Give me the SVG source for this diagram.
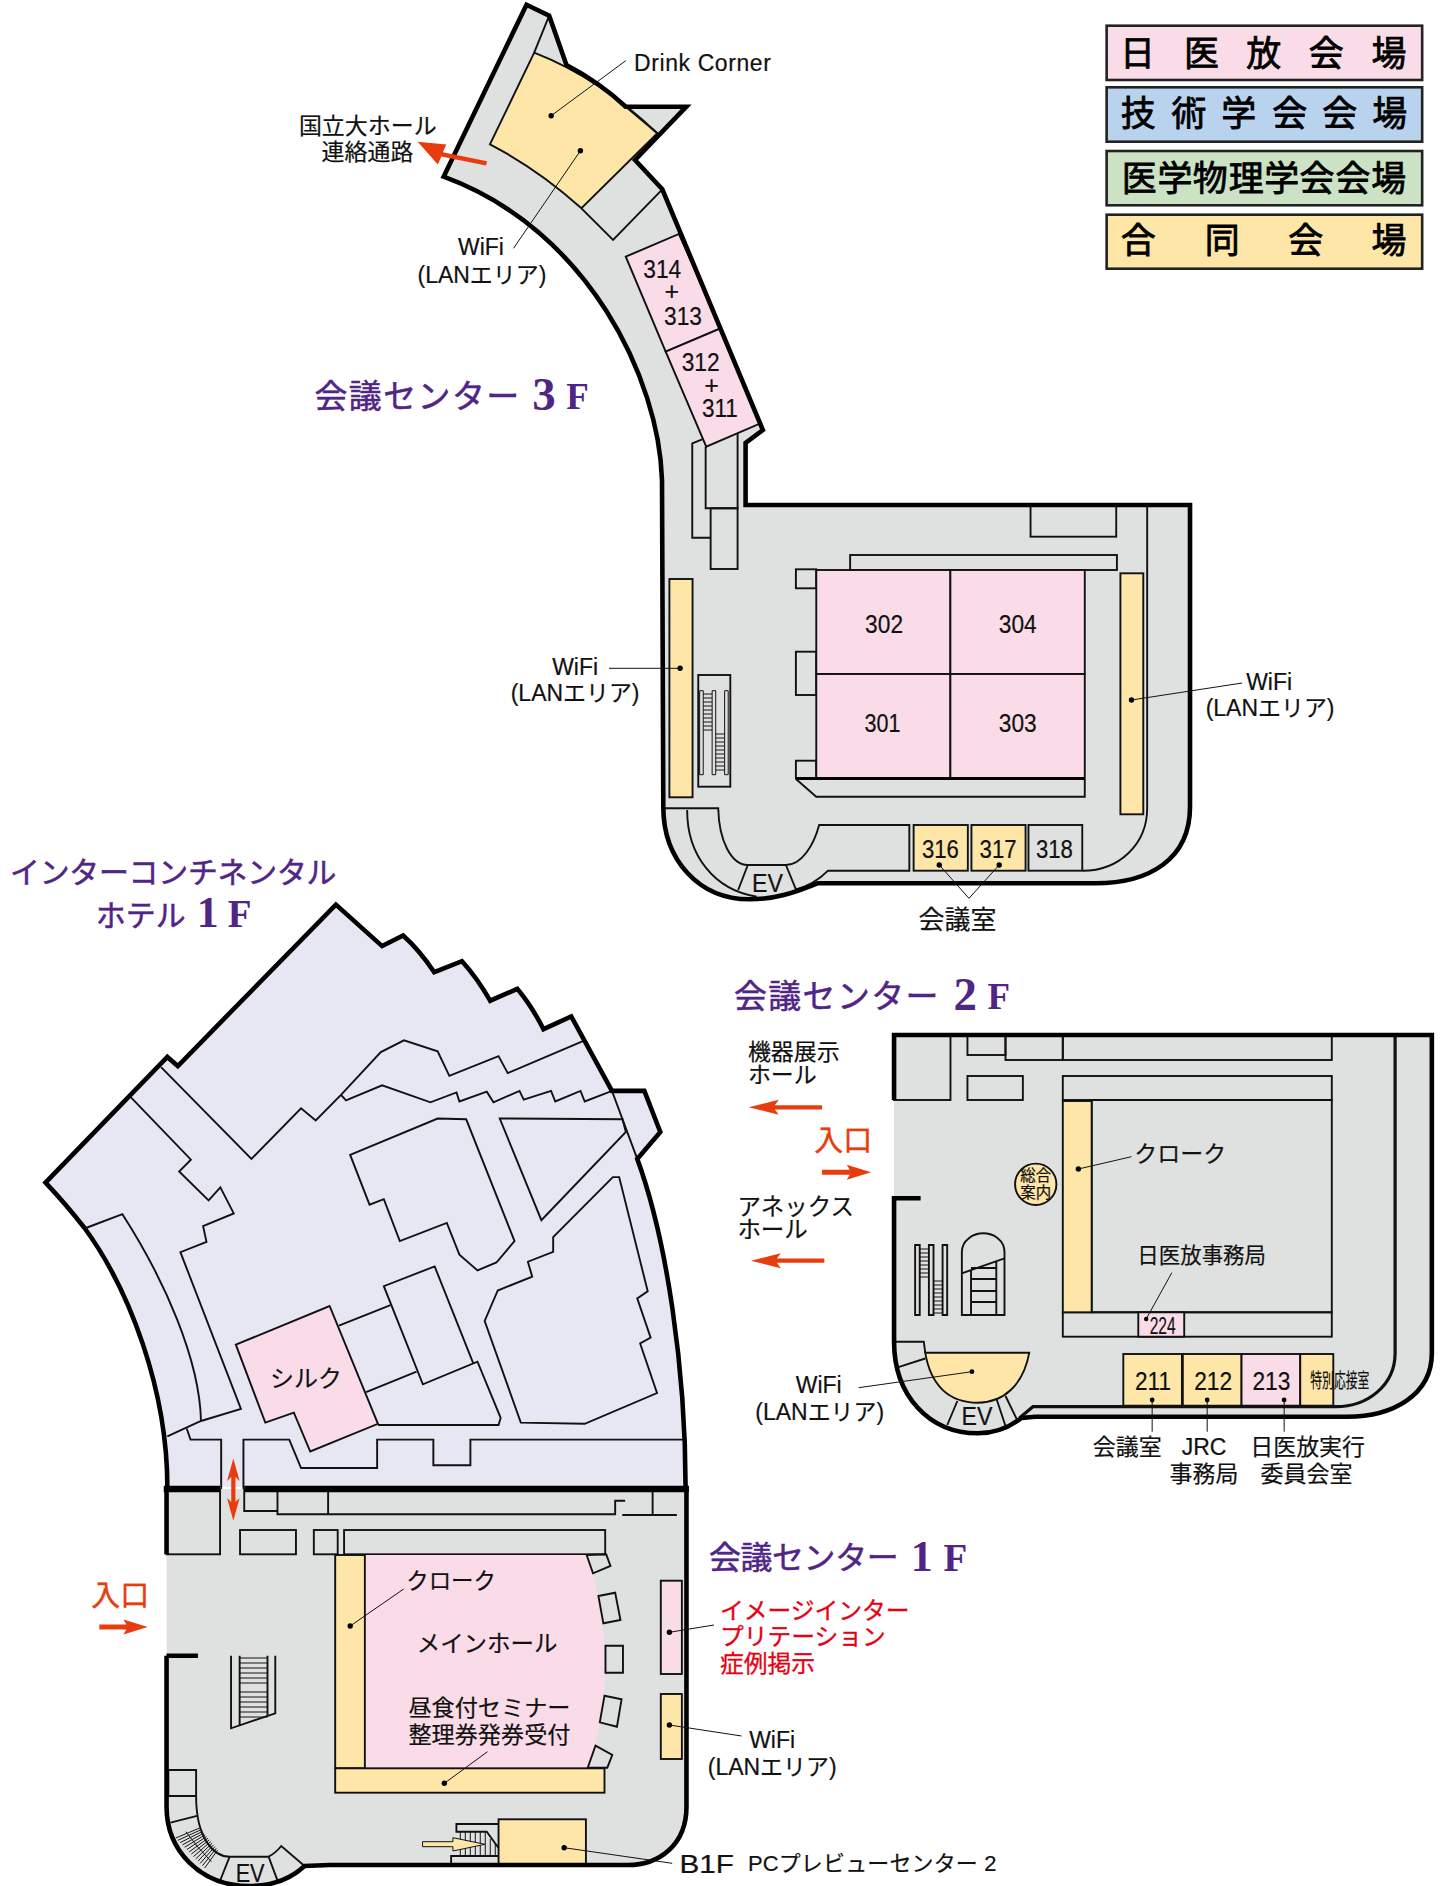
<svg xmlns="http://www.w3.org/2000/svg" width="1440" height="1886" viewBox="0 0 1440 1886">
<style>
text{font-family:"Liberation Sans","Noto Sans CJK JP",sans-serif;fill:#111;font-size:23px;stroke:#111;stroke-width:.2}
.jp{font-family:"Noto Sans CJK JP",sans-serif}
.m{text-anchor:middle}
.n{font-size:25px;text-anchor:middle}
.ttl{font-family:"Noto Sans CJK JP",sans-serif;fill:#502585;stroke:#502585;stroke-width:.5;font-size:33px}
.ttn{font-family:"Liberation Serif",serif;fill:#502585;stroke:none;font-weight:700}
.leg{font-family:"Noto Sans CJK JP",sans-serif;font-size:35px;stroke:#000;stroke-width:.8;text-anchor:middle;fill:#000}
.red{fill:#e60012;stroke:#e60012;stroke-width:.3;font-size:23.8px;font-family:"Noto Sans CJK JP",sans-serif}
.ent{fill:#e83c0e;stroke:#e83c0e;stroke-width:.4;font-size:29px;font-family:"Noto Sans CJK JP",sans-serif;text-anchor:middle}
.g{fill:#dfe1e0}.p{fill:#f9dce8}.y{fill:#fde6a7}.b{fill:#b9d2ee}.v{fill:#cbe2c4}.h{fill:#e7e6f3}
.wall{fill:none;stroke:#000;stroke-width:4.6;stroke-linejoin:miter}
.t{stroke:#111;stroke-width:1.9;stroke-linejoin:miter}
.o{fill:none;stroke:#111;stroke-width:1.9;stroke-linejoin:miter}
.f{fill:none;stroke:#111;stroke-width:1}
.lead{fill:none;stroke:#111;stroke-width:1}
.dot{fill:#000}
.arrow{fill:#e83c0e}
.lg{stroke:#222;stroke-width:2.6}
</style>
<g transform="scale(.9985 1)">
<g id="legend">
<rect class="p lg" x="1108.3" y="25.7" width="316" height="54.3"/>
<rect class="b lg" x="1108.3" y="87.3" width="316" height="54.4"/>
<rect class="v lg" x="1108.3" y="151" width="316" height="54.3"/>
<rect class="y lg" x="1108.3" y="214.7" width="316" height="54"/>
<text class="leg" x="1139.3 1203.3 1265.7 1328.3 1391" y="66">日医放会場</text>
<text class="leg" x="1140 1190.7 1240.7 1291.7 1341.7 1391.7" y="126">技術学会会場</text>
<text class="leg" x="1141 1176.7 1212 1248 1283.6 1319 1355 1390.7" y="191">医学物理学会会場</text>
<text class="leg" x="1140 1224 1307.7 1391" y="253">合同会場</text>
</g>

<g id="floor-3f">
<path class="g" d="M527.3,4.7 L550,15.7 L567.3,65 Q600,82 626.7,106.7 L687.3,106.7 L636,160 L663.3,189.3 L764,430 L746.7,443 L746.7,505 L1191.8,505 L1191.8,806.7 C1191.8,860 1150,883.3 1097.1,883.3 L818.6,883.3 C795,893 775,899.3 750.7,899.3 C700,899.3 664.3,860 664.3,806.7 L663,480 C660,380 590,230 444.3,176.7 Z"/>
<path class="o" d="M550,15.7 L535,52.7"/>
<path class="y t" d="M535,52.7 Q600,78 658.3,133.3 L582.3,208.3 Q540,170 490.7,144.3 Z"/>
<path class="o" d="M582.3,208.3 L614,240 L663.3,189.3"/>
<g id="room-314-313"><path class="p t" d="M626.7,256.7 L680,234 L721.7,328.3 L666.7,351.7 Z"/>
<text class="n" x="663.3" y="278.3" textLength="38" lengthAdjust="spacingAndGlyphs">314</text><text class="n" x="672.7" y="300">+</text><text class="n" x="684" y="325" textLength="38" lengthAdjust="spacingAndGlyphs">313</text></g>
<g id="room-312-311"><path class="p t" d="M666.7,351.7 L721.7,328.3 L761.7,423.3 L707.3,446.7 Z"/>
<text class="n" x="701.7" y="370.7" textLength="38" lengthAdjust="spacingAndGlyphs">312</text><text class="n" x="712.7" y="394">+</text><text class="n" x="721" y="417.3" textLength="36" lengthAdjust="spacingAndGlyphs">311</text></g>
<path class="o" d="M703.3,439.3 L693.3,443.3 L693.3,537.7 L711.7,537.7"/>
<path class="o" d="M706.7,446.7 L706.7,508.3 L738.7,508.3 L738.7,433.3"/>
<rect class="o" x="711.7" y="508.3" width="27" height="60.7"/>
<rect class="o" x="1032.1" y="505" width="85.8" height="31.7"/>
<path class="o" d="M1148.9,505 L1148.9,808 C1148.9,845 1120,870.7 1084.6,870.7"/>
<rect class="o" x="851.4" y="555" width="267.2" height="15"/>
<rect class="o" x="797.1" y="569.3" width="20.4" height="19"/>
<rect class="o" x="797.1" y="651.7" width="20.4" height="43.3"/>
<rect class="o" x="797.1" y="760.7" width="20.4" height="17.6"/>
<path class="o" d="M797.1,779 L817.5,796.7 L1086.4,796.7 L1086.4,779"/>
<g id="room-302"><rect class="p t" x="817.5" y="570" width="134.3" height="104"/><text class="n" x="885.4" y="633.3" textLength="38" lengthAdjust="spacingAndGlyphs">302</text></g>
<g id="room-304"><rect class="p t" x="951.8" y="570" width="134.6" height="104"/><text class="n" x="1019.3" y="633.3" textLength="38" lengthAdjust="spacingAndGlyphs">304</text></g>
<g id="room-301"><rect class="p t" x="817.5" y="674" width="134.3" height="104"/><text class="n" x="883.9" y="731.7" textLength="36" lengthAdjust="spacingAndGlyphs">301</text></g>
<g id="room-303"><rect class="p t" x="951.8" y="674" width="134.6" height="104"/><text class="n" x="1019.3" y="731.7" textLength="38" lengthAdjust="spacingAndGlyphs">303</text></g>
<path d="M797.1,778.5 L1086.4,778.5" stroke="#000" stroke-width="3"/>
<rect class="y t" x="670.4" y="579" width="23.2" height="218.3"/>
<rect class="y t" x="1122.1" y="573.3" width="22.9" height="241"/>
<g id="escalator-3f">
<rect class="o" x="699.3" y="675" width="32.1" height="111.7"/>
<path class="f" stroke-width="1.5" d="M700.7,774.7V690.7H704.3V774.7ZM713.2,774.7V690.7H716.8V774.7ZM725.7,774.7V690.7H729.3V774.7Z"/>
<path class="f" d="M704.3,694H713.2M704.3,698H713.2M704.3,702H713.2M704.3,706H713.2M704.3,710H713.2M704.3,714H713.2M704.3,718H713.2M704.3,722H713.2M704.3,726H713.2M704.3,730H713.2M716.8,734H725.7M716.8,738H725.7M716.8,742H725.7M716.8,746H725.7M716.8,750H725.7M716.8,754H725.7M716.8,758H725.7M716.8,762H725.7M716.8,766H725.7M716.8,770H725.7"/>
</g>
<path class="o" d="M664.3,808.3 L719.3,808.3 C720,840 732,865 748.9,865 L787.1,865 C803,865 815,845 820.4,825 L910.7,825 L910.7,870.7 L829.3,870.7 Q815,885 797.1,889.3"/>
<path class="o" d="M688.2,810 C688,855 715,890 757.9,896.7"/>
<path class="o" d="M748.9,865 L739.3,890 M787.1,865 L797.1,889.3"/>
<text class="n" x="768.6" y="891.7" textLength="31" lengthAdjust="spacingAndGlyphs">EV</text>
<g id="room-316"><rect class="y t" x="915" y="825" width="54.3" height="45.7"/><text class="n" x="941.8" y="858.3" textLength="37" lengthAdjust="spacingAndGlyphs">316</text></g>
<g id="room-317"><rect class="y t" x="972.9" y="825" width="54.2" height="45.7"/><text class="n" x="999.6" y="858.3" textLength="37" lengthAdjust="spacingAndGlyphs">317</text></g>
<g id="room-318"><rect class="o" x="1030" y="825" width="53.9" height="45.7"/><text class="n" x="1056" y="858.3" textLength="37" lengthAdjust="spacingAndGlyphs">318</text></g>
<path class="wall" d="M527.3,4.7 L550,15.7 L567.3,65 Q600,82 626.7,106.7 L687.3,106.7 L636,160 L663.3,189.3 L764,430 L746.7,443 L746.7,505 L1191.8,505 L1191.8,806.7 C1191.8,860 1150,883.3 1097.1,883.3 L818.6,883.3 C795,893 775,899.3 750.7,899.3 C700,899.3 664.3,860 664.3,806.7 L663,480 C660,380 590,230 444.3,176.7 Z"/>
<path d="M626.7,106.7 L658.3,133.3" class="o"/>
</g>

<g id="labels-3f">
<text class="ttl" x="315" y="408" textLength="205">会議センター</text>
<text class="ttn" x="533" y="410" style="font-size:47px">3</text>
<text class="ttn" x="567" y="409" style="font-size:37px">F</text>
<text x="635" y="70.7" textLength="137">Drink Corner</text>
<text class="m" x="481.7" y="255">WiFi</text>
<text class="m" x="482.7" y="283">(LANエリア)</text>
<text class="m" x="368.3" y="134">国立大ホール</text>
<text class="m" x="368" y="160">連絡通路</text>
<text class="m" x="576" y="675.5">WiFi</text>
<text class="m" x="576" y="701">(LANエリア)</text>
<text class="m" x="1271" y="690">WiFi</text>
<text class="m" x="1272" y="716">(LANエリア)</text>
<text class="jp m" x="959" y="929" style="font-size:26px">会議室</text>
</g>

<g id="hotel-1f">
<path class="h" d="M336.4,904.6 L382.7,946.1 L403.7,935.5 Q420,950 434.9,972.2 L462.7,961.2 Q478,978 490.9,1000.7 L518.2,988.9 Q532,1005 544.3,1029.2 L572.1,1016.5 L612.9,1090.9 L645.3,1090.9 L661.3,1132 L638.2,1158.9 C668,1240 686.6,1370 686.6,1487 L167.6,1487 C167.6,1390 130,1290 84.7,1228 Q65,1203 45.6,1182.6 L167.6,1056.9 L178.1,1066 Z"/>
<g class="o">
<path d="M585.6,1040.3 L508.5,1073.1 L499.3,1056.1 L450,1075.8 L438.3,1051.3 L404.6,1040.3 L381.4,1052.1 L341.5,1094.8 L316.2,1120.5 L301.5,1108.3 L251.8,1158.9 L161.3,1067.1"/>
<path d="M341.5,1094.8 L346.5,1100.4 L382.7,1085.3 L431.1,1102.3 L457.2,1092.4 L460.1,1101.5 L487.5,1091.7 L494.2,1102.3 L520.3,1090.9 L524.5,1099.6 L551.9,1090.9 L556.1,1101.5 L581.4,1090.9 L585.6,1101.5 L612.9,1090.9 L638.2,1158.9"/>
<path d="M500.5,1118.5 L623.4,1119.3 L626.8,1132 L542.2,1220.2 Z"/>
<path d="M350.7,1154.9 L438.3,1118.5 L466.9,1119.3 L515.3,1241.1 L497.2,1262.5 L478.2,1270.4 L460.1,1254.6 L447.5,1222.9 L400.4,1241.1 L384.4,1199.2 L370.1,1204.7 Z"/>
<path d="M130.2,1096.4 L191.2,1159.7 L179.4,1171.5 L208.9,1200.4 L220.7,1187.3 L234.1,1213.4 L203.4,1226.1 L206.8,1241.9 L180.7,1252.2 L241.3,1408.8 L201.3,1421 L167.6,1436.4"/>
<path d="M86,1228 L122.6,1214.2 C165,1280 200,1360 201.3,1421"/>
<path d="M187,1428.5 L190.8,1439.6 L221.5,1439.6 L221.5,1489 M243.8,1489 L243.8,1439.6 L289.7,1439.6 L301.5,1468 L377.7,1468 L377.7,1439.6 L434,1439.6 L434,1465.3 L471.1,1465.3 L471.1,1439.6 L686.6,1439.6"/>
<path d="M339.4,1325.7 L391.1,1305.2 M366.7,1392.2 L417.2,1371.6"/>
<path d="M474,1363.3 L435.3,1266.4 L384.4,1286.2 L423.5,1384.3 L478.2,1361.7 L501.4,1417.9 L499.3,1425 L378.5,1425"/>
<path d="M613.8,1177.1 L620.1,1177.1 L648.7,1291.3 L638.2,1298.4 L651.6,1337.6 L641.1,1343.5 L658,1393 L585.6,1423.8 L521.6,1422.6 L485.4,1321 L498.5,1290.5 L533,1276.7 L528.7,1261.7 L554,1251.8 L554,1237.2 Z"/>
</g>
<g id="room-silk"><path class="p t" d="M236.2,1344.7 L330.1,1306 L378.5,1423.8 L310.7,1451.5 L294.3,1412.7 L265.7,1422.6 Z"/>
<text class="jp m" x="306.5" y="1387" style="font-size:24px">シルク</text></g>
<path class="wall" d="M167.6,1487 C167.6,1390 130,1290 84.7,1228 Q65,1203 45.6,1182.6 L167.6,1056.9 L178.1,1066 L336.4,904.6 L382.7,946.1 L403.7,935.5 Q420,950 434.9,972.2 L462.7,961.2 Q478,978 490.9,1000.7 L518.2,988.9 Q532,1005 544.3,1029.2 L572.1,1016.5 L612.9,1090.9 L645.3,1090.9 L661.3,1132 L638.2,1158.9 C668,1240 686.6,1370 686.6,1487"/>
</g>

<g id="center-1f">
<path class="g" d="M166.8,1489 L687.5,1489 L687.5,1806.7 C687.5,1845 660,1865 628.6,1865 L330,1865 L305,1866 C290,1880 270,1886 250,1886 C200,1886 166.8,1850 166.8,1806.7 Z"/>
<rect class="o" x="166.8" y="1490" width="53.6" height="64.3" stroke-width="2.5"/>
<path class="o" d="M244.6,1489 L244.6,1511 L277.9,1511 M277.9,1489 L277.9,1514.3 L616.1,1514.3 L616.1,1500.7 L626.1,1500.7 M328.6,1489 L328.6,1514.3 M623.2,1515 L677.9,1515 M653.6,1489 L653.6,1515"/>
<rect class="o" x="240.4" y="1530" width="56" height="24.3"/>
<rect class="o" x="314.3" y="1530" width="23.9" height="24.3"/>
<rect class="o" x="344.6" y="1530" width="261.5" height="24.3"/>
<g id="hall-main"><path class="p" d="M365.4,1555 L587.5,1555 C600,1590 606,1630 606,1670 C606,1705 600,1740 587.5,1768.3 L365.4,1768.3 Z"/></g>
<rect class="y t" x="335.7" y="1555" width="29.7" height="213.3"/>
<rect class="y t" x="335.7" y="1768.3" width="269.7" height="24.4"/>
<path class="o" d="M587.5,1555 L607.1,1554.3 L611.4,1566 L593.9,1573.3 Z M599.3,1596 L616.1,1592.7 L621.4,1620 L604.3,1623.3 Z M606.4,1645.7 H623.9 V1672.7 H606.4 Z M605.4,1695.7 L622.5,1699.3 L617.9,1726.7 L600.7,1722.3 Z M596.4,1745.7 L613.2,1755 L608.2,1767.7 L588.6,1767.7 Z"/>
<rect class="p t" x="661.8" y="1580.7" width="21.1" height="93.3"/>
<rect class="y t" x="661.8" y="1694" width="21.1" height="65"/>
<g id="stair-1f"><path class="o" d="M231.4,1655.7 L231.4,1728.3 L275.7,1713.3 L275.7,1655.7 M240,1655.7 L240,1725 M267.9,1655.7 L267.9,1716"/>
<path class="f" d="M240,1658H267.9M240,1663H267.9M240,1668H267.9M240,1673H267.9M240,1678H267.9M240,1683H267.9M240,1692H267.9M240,1697H267.9M240,1702H267.9M240,1707H267.9M240,1712H267.9M240,1717H267.9"/></g>
<path class="o" d="M168.6,1796 L168.6,1770 L196.4,1770 L196.4,1796 L168.6,1796 M196.4,1796 C196.4,1840 215,1856.7 230,1856.7 L269,1856.7 Q276,1853 281.7,1846 L305,1866 M170.7,1822.7 L198.3,1815.7 M230,1856.7 L220.7,1880 M269,1856.7 L278.3,1881.7"/>
<path class="f" d="M186,1831.7 Q198,1848 211.7,1861.7 M200,1828L176,1838M201.4,1829.7L178.2,1840.3M202.8,1831.4L180.5,1842.6M204.2,1833.1L182.7,1844.9M205.5,1834.8L184.9,1847.2M206.9,1836.5L187.2,1849.5M208.3,1838.2L189.4,1851.9M209.7,1839.8L191.6,1854.1M211.1,1841.5L193.8,1856.5M212.5,1843.2L196.1,1858.8M213.8,1844.9L198.3,1861.1M215.2,1846.6L200.5,1863.4M216.6,1848.3L202.8,1865.7M218,1850L205,1868"/>
<text class="n" x="250.5" y="1881.7" textLength="29" lengthAdjust="spacingAndGlyphs">EV</text>
<g id="room-b1f"><rect class="y t" x="499.3" y="1819.3" width="87.5" height="45"/></g>
<g id="stair-b1f"><path class="o" d="M499.3,1824 L457.1,1824 L457.1,1831.7 L487.5,1831.7 L499.3,1848 M451.8,1865 L451.8,1856 L499.3,1856"/>
<path class="f" d="M461,1831.7V1856M466,1831.7V1856M471,1831.7V1856M476,1831.7V1856M481,1831.7V1856M486,1831.7V1856M491,1839V1856M496,1844V1856"/>
<path d="M423.2,1841.7 L453.6,1841.7 L453.6,1837.7 L485.7,1844.3 L453.6,1851 L453.6,1846.7 L423.2,1846.7 Z" fill="#fde6a7" stroke="#111" stroke-width="1"/></g>
<path class="wall" d="M166.8,1554.3 L166.8,1489 M166.8,1655.7 L198.2,1655.7 M166.8,1655.7 L166.8,1806.7 C166.8,1850 200,1886 250,1886 C270,1886 290,1880 305,1866 L330,1865 L628.6,1865 C660,1865 687.5,1845 687.5,1806.7 L687.5,1489"/>
<path d="M164,1489 H220.4 M244.6,1489 H690" stroke="#000" stroke-width="6.5" fill="none"/>
</g>

<g id="labels-1f">
<text class="ttl" x="10" y="883" textLength="327" style="font-size:30px">インターコンチネンタル</text>
<text class="ttl" x="96" y="926" style="font-size:30px">ホテル</text>
<text class="ttn" x="197" y="927.3" style="font-size:44px">1</text>
<text class="ttn" x="228" y="927.3" style="font-size:39px">F</text>
<text class="ttl" x="710" y="1569" textLength="190" style="font-size:32px">会議センター</text>
<text class="ttn" x="912" y="1570.7" style="font-size:44px">1</text>
<text class="ttn" x="945" y="1570.7" style="font-size:39px">F</text>
<text class="jp m" x="451.8" y="1589" style="font-size:22.5px">クローク</text>
<text class="jp m" x="487.8" y="1652.5" style="font-size:23.5px">メインホール</text>
<text class="jp" x="409" y="1716" style="font-size:23.2px">昼食付セミナー</text>
<text class="jp" x="409" y="1743" style="font-size:23.2px">整理券発券受付</text>
<text class="red" x="721" y="1619">イメージインター</text>
<text class="red" x="721" y="1645.5">プリテーション</text>
<text class="red" x="721" y="1672">症例掲示</text>
<text class="m" x="773.3" y="1748.3">WiFi</text>
<text class="m" x="773.3" y="1775">(LANエリア)</text>
<text x="680.5" y="1873" textLength="54.5" lengthAdjust="spacingAndGlyphs" style="font-size:26px">B1F</text>
<text x="749" y="1871" textLength="249" style="font-size:22px">PCプレビューセンター 2</text>
<text class="ent" x="120.5" y="1606">入口</text>
</g>

<g id="floor-2f">
<path class="g" d="M895.4,1035 L1434,1035 L1434,1353 C1434,1395 1395,1416.7 1349,1416.7 L1036.8,1416.7 L1023,1418 C1010,1428 995,1433.3 979.4,1433.3 C930,1433.3 895.4,1395 895.4,1341.7 Z"/>
<path d="M1397.2,1035 L1397.2,1353 C1397.2,1385 1370,1406.7 1337.6,1406.7 L1034.5,1406.7 L1021,1418" fill="none" stroke="#111" stroke-width="3.2"/>
<g class="o">
<rect x="895.4" y="1035" width="56.5" height="65"/>
<rect x="968.9" y="1035" width="38.1" height="20"/>
<rect x="1007" y="1035" width="57.4" height="25"/>
<rect x="1064.4" y="1035" width="269.4" height="25"/>
<rect x="968.9" y="1076" width="55.5" height="24"/>
<rect x="1064.4" y="1076" width="269.4" height="24"/>
<rect x="1093.3" y="1100" width="240.5" height="212.3"/>
<rect x="1064.4" y="1312.3" width="269.4" height="24.4"/>
</g>
<rect class="y t" x="1064.4" y="1101" width="28.9" height="211.3"/>
<g id="room-224"><rect class="p t" x="1140" y="1312.3" width="46" height="24.4"/><text class="m" x="1164.4" y="1334" textLength="26" lengthAdjust="spacingAndGlyphs" style="font-size:24px">224</text></g>
<g id="info-desk"><circle class="y t" cx="1037.3" cy="1184.3" r="20.7"/>
<text class="jp m" x="1037.3" y="1181.5" style="font-size:15.5px">総合</text><text class="jp m" x="1037.3" y="1198.5" style="font-size:15.5px">案内</text></g>
<g id="stairs-2f">
<path class="o" stroke-width="1.5" d="M916.5,1315V1245H921.1V1315ZM930.3,1315V1245H934.9V1315ZM944,1315V1245H948.6V1315Z"/>
<path class="f" d="M921.1,1249H930.3M921.1,1253H930.3M921.1,1257H930.3M921.1,1261H930.3M921.1,1265H930.3M921.1,1269H930.3M921.1,1273H930.3M921.1,1277H930.3M934.9,1281H944M934.9,1285H944M934.9,1289H944M934.9,1293H944M934.9,1297H944M934.9,1301H944M934.9,1305H944M934.9,1309H944M934.9,1313H944"/>
<path class="o" d="M963.3,1315 L963.3,1252 C963.3,1240 975,1233.3 984.6,1233.3 C995,1233.3 1006,1240 1006,1252 L1006,1315 Z M963.3,1273.3 L1006,1258.3 M972.5,1270 L972.5,1315 M997.8,1262 L997.8,1315 M972.5,1279H997.8 M972.5,1291H997.8 M972.5,1302H997.8 M972.5,1268H997.8"/>
</g>
<path class="o" d="M895.4,1341.7 L925.2,1341.7 L926.6,1352.7 M899,1367.3 L926.6,1358.5"/>
<path class="y t" d="M926.6,1352.7 L1030.8,1352.7 C1025,1385 1005,1402.7 979.4,1402.7 C950,1402.7 932,1385 926.6,1352.7 Z"/>
<path class="o" d="M958.8,1401 L948.7,1425 M997.8,1398.3 L1007,1426 M1007,1396 L1018.4,1419.3"/>
<text class="n" x="978.5" y="1425" textLength="31" lengthAdjust="spacingAndGlyphs">EV</text>
<g id="room-211"><rect class="y t" x="1125" y="1354" width="58.7" height="51.7"/><text class="n" x="1154.8" y="1390" textLength="36" lengthAdjust="spacingAndGlyphs">211</text></g>
<g id="room-212"><rect class="y t" x="1184.6" y="1354" width="58.8" height="51.7"/><text class="n" x="1215" y="1390" textLength="38" lengthAdjust="spacingAndGlyphs">212</text></g>
<g id="room-213"><rect class="p t" x="1243.4" y="1354" width="58.8" height="51.7"/><text class="n" x="1273.3" y="1390" textLength="38" lengthAdjust="spacingAndGlyphs">213</text></g>
<g id="room-special"><rect class="y t" x="1302.2" y="1354" width="33.1" height="51.7"/><text class="jp" x="1312.3" y="1388" textLength="59" lengthAdjust="spacingAndGlyphs" style="font-size:20px">特別応接室</text></g>
<path class="wall" d="M895.4,1100 L895.4,1035 L1434,1035 L1434,1353 C1434,1395 1395,1416.7 1349,1416.7 L1036.8,1416.7 L1023,1418 C1010,1428 995,1433.3 979.4,1433.3 C930,1433.3 895.4,1395 895.4,1341.7 L895.4,1198.3 L922,1198.3"/>
</g>

<g id="labels-2f">
<text class="ttl" x="735" y="1008" textLength="205">会議センター</text>
<text class="ttn" x="955" y="1010" style="font-size:47px">2</text>
<text class="ttn" x="989" y="1009" style="font-size:37px">F</text>
<text class="jp" x="749" y="1060">機器展示</text>
<text class="jp" x="749" y="1083">ホール</text>
<text class="jp" x="738.5" y="1215" style="font-size:23.5px">アネックス</text>
<text class="jp" x="738.5" y="1238" style="font-size:23.5px">ホール</text>
<text class="ent" x="844.5" y="1151">入口</text>
<text class="jp" x="1136" y="1162">クローク</text>
<text class="jp" x="1139" y="1263" style="font-size:21.5px">日医放事務局</text>
<text class="m" x="820" y="1393">WiFi</text>
<text class="m" x="821" y="1420.5">(LANエリア)</text>
<text class="jp m" x="1129" y="1455">会議室</text>
<text class="m" x="1205.8" y="1455">JRC</text>
<text class="jp m" x="1205.8" y="1482">事務局</text>
<text class="jp m" x="1309.6" y="1455">日医放実行</text>
<text class="jp m" x="1308.4" y="1482">委員会室</text>
</g>

<g id="connectors">
<g class="lead">
<path d="M552,115.7 L626.7,60.7"/>
<path d="M581.3,150.7 L514.3,248.3"/>
<path d="M681.1,668.3 L610,668.3"/>
<path d="M1133.2,700 L1244,683"/>
<path d="M940.7,865 L970.4,898.3 L1000.7,865"/>
<path d="M1080,1169 L1133.2,1156.7"/>
<path d="M1147.9,1319 L1173.6,1272.7"/>
<path d="M973.4,1371.7 L860,1387.7"/>
<path d="M1153.9,1400 V1431.7 M1209,1400 V1431.7 M1286.1,1400 V1431.7"/>
<path d="M350.7,1626 L404.3,1589"/>
<path d="M445,1783.3 L488.2,1751.7"/>
<path d="M670.4,1632.3 L715,1625"/>
<path d="M670.4,1725 L742.7,1736"/>
<path d="M565,1847.7 L673.2,1863.3"/>
</g>
<g class="dot">
<circle cx="552" cy="115.7" r="2.7"/><circle cx="581.3" cy="150.7" r="2.7"/><circle cx="681.1" cy="668.3" r="2.7"/><circle cx="1133.2" cy="700" r="2.7"/><circle cx="940.7" cy="865" r="2.7"/><circle cx="1000.7" cy="865" r="2.7"/><circle cx="1080" cy="1169" r="2.7"/><circle cx="1147.9" cy="1319" r="2.2"/><circle cx="973.4" cy="1371.7" r="2.4"/><circle cx="1153.9" cy="1400" r="2.4"/><circle cx="1209" cy="1400" r="2.4"/><circle cx="1286.1" cy="1400" r="2.4"/><circle cx="350.7" cy="1626" r="2.7"/><circle cx="445" cy="1783.3" r="2.7"/><circle cx="670.4" cy="1632.3" r="2.7"/><circle cx="670.4" cy="1725" r="2.7"/><circle cx="565" cy="1847.7" r="2.7"/>
</g>
<g class="arrow">
<path d="M418.3,141.7 L447,144.5 L443.5,152.2 L487.8,161.2 L486.8,165.4 L442,156.6 L438.5,164.5 Z"/>
<path d="M749.8,1107.3 L780,1099.8 L776,1105.2 H823.3 V1109.4 H776 L780,1114.8 Z"/>
<path d="M752.1,1260.7 L782,1253.2 L778,1258.6 H825.6 V1262.8 H778 L782,1268.2 Z"/>
<path d="M872.4,1172.3 L848,1164.8 L851,1169.8 H823.3 V1174.8 H851 L848,1179.8 Z"/>
<path d="M148,1627 L123.6,1619.5 L126.6,1624.5 H99.5 V1629.5 H126.6 L123.6,1634.5 Z"/>
<path d="M233.7,1458.6 L240,1481 L235.8,1477 V1502 L240,1498 L233.7,1520.7 L227.4,1498 L231.6,1502 V1477 L227.4,1481 Z"/>
</g>
</g>
</g>
</svg>
